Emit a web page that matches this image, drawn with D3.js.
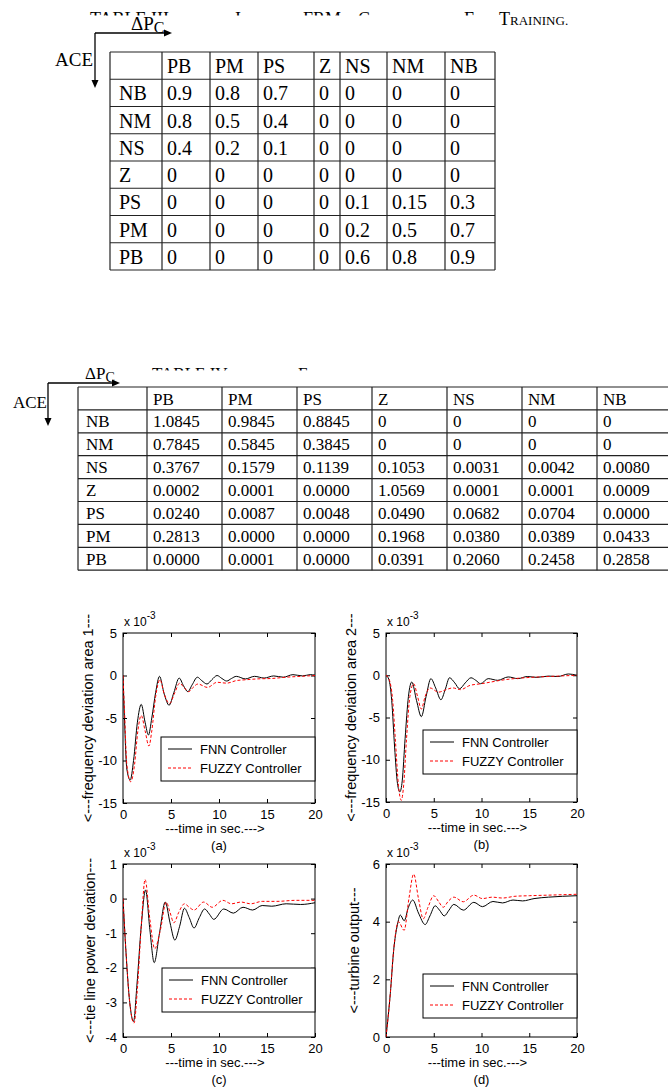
<!DOCTYPE html>
<html>
<head>
<meta charset="utf-8">
<script src="https://cdn.jsdelivr.net/npm/d3@7"></script>
<style>
body{margin:0;background:#fff;}
</style>
</head>
<body>
<svg id="fig" width="668" height="1088"></svg>
<script>
// ---------- table data ----------
let colNames = ['PB','PM','PS','Z','NS','NM','NB'];
let rowNames = ['NB','NM','NS','Z','PS','PM','PB'];

let initRules = [
    ['0.9','0.8','0.7','0','0','0','0'],
    ['0.8','0.5','0.4','0','0','0','0'],
    ['0.4','0.2','0.1','0','0','0','0'],
    ['0','0','0','0','0','0','0'],
    ['0','0','0','0','0.1','0.15','0.3'],
    ['0','0','0','0','0.2','0.5','0.7'],
    ['0','0','0','0','0.6','0.8','0.9']
];
let finalRules = [
    ['1.0845','0.9845','0.8845','0','0','0','0'],
    ['0.7845','0.5845','0.3845','0','0','0','0'],
    ['0.3767','0.1579','0.1139','0.1053','0.0031','0.0042','0.0080'],
    ['0.0002','0.0001','0.0000','1.0569','0.0001','0.0001','0.0009'],
    ['0.0240','0.0087','0.0048','0.0490','0.0682','0.0704','0.0000'],
    ['0.2813','0.0000','0.0000','0.1968','0.0380','0.0389','0.0433'],
    ['0.0000','0.0001','0.0000','0.0391','0.2060','0.2458','0.2858']
];

// title words: [tall first letter, small caps rest]
let title3 = [['TABLE III',''],['I','NITIAL'],['FRM',''],['C','ONSEQUENTS'],['F','OR'],['T','RAINING.']];
let title4 = [['TABLE IV',''],['F','INAL']];

// ---------- plot data: [time, value x1e-3] ----------
let timeTicks = [0,5,10,15,20];
let legendNames = ['FNN Controller','FUZZY Controller'];

let freq1Fnn = [[0,0],[0.15,-5],[0.4,-11],[0.75,-12.3],[1.1,-10],[1.5,-5.5],[1.9,-3.4],[2.3,-5.5],[2.65,-7],[3.0,-5],[3.4,-2],[3.8,-0.1],
    [4.3,-2.2],[4.8,-3.5],[5.3,-2],[5.85,-0.3],[6.3,-1.2],[6.75,-1.9],[7.2,-1.1],[7.75,-0.2],[8.2,-0.6],[8.75,-1.0],[9.25,-0.5],
    [9.8,0],[10.3,-0.35],[10.8,-0.65],[11.3,-0.35],[11.8,-0.1],[12.75,-0.4],[13.7,-0.1],[14.7,-0.3],[15.7,-0.05],[16.7,-0.2],
    [17.7,0.1],[18.7,-0.05],[19.5,0.1],[20,0.05]];
let freq1Fuzzy = [[0,0],[0.15,-4],[0.4,-10.5],[0.8,-12.5],[1.2,-10.5],[1.55,-6.5],[1.9,-4.7],[2.3,-6.5],[2.7,-8.3],[3.0,-6.5],[3.4,-2.5],
    [3.85,-0.5],[4.3,-2.2],[4.85,-3.3],[5.4,-2],[5.9,-0.9],[6.35,-1.4],[6.85,-1.9],[7.3,-1.4],[7.8,-1.0],[8.8,-1.4],[9.8,-0.8],
    [10.8,-0.9],[11.8,-0.6],[12.8,-0.5],[14,-0.4],[15.5,-0.35],[17,-0.2],[18.5,-0.1],[20,0]];

let freq2Fnn = [[0,0],[0.3,-0.5],[0.6,-3],[0.9,-8.5],[1.2,-12.8],[1.45,-13.8],[1.7,-12.5],[2.0,-7.5],[2.35,-2.5],[2.7,-0.8],[3.2,-3],
    [3.7,-4.9],[4.2,-2.5],[4.7,-0.4],[5.2,-1.5],[5.75,-2.9],[6.2,-1.7],[6.65,-0.3],[7.2,-0.9],[7.7,-1.6],[8.3,-0.9],[8.9,-0.3],
    [9.4,-0.6],[9.9,-1.0],[10.7,-0.4],[11.7,-0.6],[12.8,-0.2],[13.8,-0.4],[14.8,-0.15],[15.8,-0.25],[17,-0.1],[18,-0.15],[19.1,0.15],[20,0]];
let freq2Fuzzy = [[0,0],[0.3,-0.4],[0.7,-3],[1.0,-8],[1.3,-13],[1.6,-14.8],[1.85,-13],[2.15,-7.5],[2.5,-2.5],[2.9,-1.0],[3.3,-2.5],
    [3.7,-4.0],[4.1,-2.5],[4.6,-1.5],[5.5,-2.0],[6.3,-1.7],[7.0,-1.5],[7.8,-1.7],[8.8,-1.2],[10,-1.0],[11,-0.8],[12,-0.6],[13,-0.45],
    [14.5,-0.3],[16,-0.2],[18,-0.1],[20,0]];

let tieFnn = [[0,0],[0.3,-1.5],[0.7,-3.0],[1.1,-3.55],[1.45,-2.5],[1.9,-0.8],[2.35,0.25],[2.8,-0.9],[3.25,-1.85],[3.8,-1.0],[4.4,-0.1],
    [4.9,-0.7],[5.4,-1.2],[5.9,-0.8],[6.4,-0.28],[6.9,-0.55],[7.4,-0.85],[7.95,-0.55],[8.5,-0.3],[9.0,-0.45],[9.45,-0.6],[10.5,-0.3],
    [11.5,-0.42],[12.5,-0.25],[13.5,-0.33],[14.5,-0.2],[15.5,-0.22],[17,-0.15],[18.5,-0.17],[20,-0.12]];
let tieFuzzy = [[0,0],[0.3,-1.5],[0.7,-3.0],[1.15,-3.6],[1.5,-2.6],[1.9,-0.8],[2.3,0.55],[2.8,-0.6],[3.3,-1.45],[3.9,-0.9],[4.5,-0.1],
    [4.9,-0.4],[5.3,-0.7],[5.8,-0.4],[6.4,-0.15],[6.9,-0.25],[7.4,-0.33],[8.4,-0.1],[9.3,-0.25],[10.4,-0.05],[11.3,-0.15],[12.3,-0.1],
    [13.3,-0.15],[14.5,-0.08],[16,-0.08],[18,-0.05],[20,-0.05]];

let turbFnn = [[0,0],[0.45,1.5],[0.8,3.0],[1.2,3.9],[1.5,4.23],[1.9,4.03],[2.35,4.5],[2.8,4.75],[3.4,4.3],[4.1,3.9],[4.6,4.2],[5.15,4.55],
    [5.6,4.4],[6.1,4.2],[6.6,4.4],[7.1,4.6],[8.1,4.4],[9.2,4.67],[10.1,4.52],[11.2,4.7],[12.2,4.65],[13.3,4.75],[14.3,4.72],[15.5,4.8],
    [17,4.85],[18.5,4.88],[20,4.9]];
let turbFuzzy = [[0,0],[0.45,1.5],[0.8,3.0],[1.3,4.0],[1.9,3.7],[2.4,4.8],[2.9,5.65],[3.4,4.8],[3.9,4.1],[4.4,4.5],[5.0,4.9],[5.5,4.7],
    [6.0,4.5],[6.5,4.7],[7.1,4.85],[8.1,4.69],[9.2,4.92],[10.1,4.8],[11.1,4.85],[12.2,4.82],[13.5,4.88],[15,4.9],[17,4.92],[20,4.95]];

let svg = d3.select('#fig');
let serif = 'Liberation Serif, Times New Roman, serif';
let sans = 'Liberation Sans, Arial, Helvetica, sans-serif';

// ---------- titles (partly hidden in the scan) ----------
function drawTitle(words, xs, base, bigSize, smallSize, cover){
    let t = svg.append('text').attr('y', base).attr('font-family', serif).attr('fill', '#000');
    for(let i = 0; i < words.length; i++){
        t.append('tspan').attr('x', xs[i]).attr('font-size', bigSize).text(words[i][0]);
        if(words[i][1] !== '') t.append('tspan').attr('font-size', smallSize).text(words[i][1]);
    }
    svg.append('rect').attr('x', cover[0]).attr('y', cover[1]).attr('width', cover[2]).attr('height', cover[3]).attr('fill', '#fff');
}

drawTitle(title3, [90,235,303,358,464,499], 25, 18, 13, [60,15.5,438,17]);
drawTitle(title4, [152,298], 379, 17, 13, [100,370.5,500,16]);

// ---------- arrows + axis names of the tables ----------
function drawCorner(o){
    let g = svg.append('g').attr('stroke','#000').attr('fill','#000');
    g.append('line').attr('x1',o.x).attr('y1',o.y).attr('x2',o.hx-6).attr('y2',o.y).attr('stroke-width',1.3);
    g.append('path').attr('d',`M${o.hx},${o.y} L${o.hx-8},${o.y-3.5} L${o.hx-8},${o.y+3.5} Z`).attr('stroke','none');
    g.append('line').attr('x1',o.x).attr('y1',o.y).attr('x2',o.x).attr('y2',o.vy-6).attr('stroke-width',1.3);
    g.append('path').attr('d',`M${o.x},${o.vy} L${o.x-3.5},${o.vy-8} L${o.x+3.5},${o.vy-8} Z`).attr('stroke','none');

    svg.append('text').attr('x',o.aceX).attr('y',o.aceY).attr('font-family',serif).attr('font-size',o.fs).text('ACE');
    let d = svg.append('text').attr('x',o.dpX).attr('y',o.dpY).attr('font-family',serif).attr('font-size',o.fs);
    d.append('tspan').text('ΔP');
    d.append('tspan').attr('dy',3).attr('font-size',o.fs-3).text('C');
}

drawCorner({x:95, y:33, hx:172, vy:88, aceX:55, aceY:66, dpX:131, dpY:30, fs:19});
drawCorner({x:48, y:383, hx:120, vy:426, aceX:13, aceY:408, dpX:85, dpY:379, fs:17});

// ---------- tables ----------
function drawTable(o){
    let g = svg.append('g');
    let nRow = o.rows.length + 1;
    let y = d3.scaleLinear().domain([0, nRow]).range([o.top, o.top + nRow * o.rowH]);
    let x0 = o.edges[0], x1 = o.edges[o.edges.length - 1];

    for(let i = 0; i <= nRow; i++){
        g.append('line').attr('x1',x0).attr('x2',x1).attr('y1',y(i)).attr('y2',y(i))
            .attr('stroke','#222').attr('stroke-width',1.2);
    }
    for(let j = 0; j < o.edges.length; j++){
        g.append('line').attr('x1',o.edges[j]).attr('x2',o.edges[j]).attr('y1',y(0)).attr('y2',y(nRow))
            .attr('stroke','#222').attr('stroke-width',1.2);
    }

    let cells = [];
    colNames.forEach((c, j) => cells.push({r:0, c:j+1, t:c}));
    rowNames.forEach((r, i) => {
        cells.push({r:i+1, c:0, t:r});
        o.rows[i].forEach((v, j) => cells.push({r:i+1, c:j+1, t:v}));
    });

    g.selectAll('text.cell').data(cells).enter().append('text')
        .attr('class','cell')
        .attr('x', d => o.edges[d.c] + (d.c === 0 ? o.padFirst : o.pad))
        .attr('y', d => y(d.r) + o.base)
        .attr('font-family', serif)
        .attr('font-size', o.fs)
        .text(d => d.t);
}

drawTable({rows:initRules, edges:[110,162,210,258,314,340,387,445,495], top:52, rowH:27.25, base:21, fs:20, pad:5, padFirst:9});
drawTable({rows:finalRules, edges:[78,147,222,297,372,447,522,597,672], top:387, rowH:22.9, base:17.5, fs:17, pad:6, padFirst:8});

// ---------- response plots ----------
function drawPlot(p){
    let x = d3.scaleLinear().domain([0,20]).range([p.left, p.right]);
    let y = d3.scaleLinear().domain(p.yDom).range([p.bottom, p.top]);
    let g = svg.append('g').attr('font-family', sans).attr('font-size', 13);

    svg.append('clipPath').attr('id','clip_' + p.name).append('rect')
        .attr('x',p.left).attr('y',p.top).attr('width',p.right-p.left).attr('height',p.bottom-p.top);

    let axes = [
        g.append('g').attr('transform',`translate(0,${p.bottom})`)
            .call(d3.axisBottom(x).tickValues(timeTicks).tickSizeInner(-4).tickSizeOuter(0).tickPadding(7).tickFormat(d => d)),
        g.append('g').attr('transform',`translate(0,${p.top})`)
            .call(d3.axisTop(x).tickValues(timeTicks).tickSizeInner(-4).tickSizeOuter(0).tickFormat('')),
        g.append('g').attr('transform',`translate(${p.left},0)`)
            .call(d3.axisLeft(y).tickValues(p.yTicks).tickSizeInner(-4).tickSizeOuter(0).tickPadding(6).tickFormat(d => d)),
        g.append('g').attr('transform',`translate(${p.right},0)`)
            .call(d3.axisRight(y).tickValues(p.yTicks).tickSizeInner(-4).tickSizeOuter(0).tickFormat(''))
    ];
    axes.forEach(a => {
        a.attr('font-size', null).attr('font-family', null);
        a.select('.domain').remove();
        a.selectAll('text').attr('fill','#000');
    });

    g.append('rect').attr('x',p.left).attr('y',p.top).attr('width',p.right-p.left).attr('height',p.bottom-p.top)
        .attr('fill','none').attr('stroke','#000').attr('stroke-width',1);

    let line = d3.line().x(d => x(d[0])).y(d => y(d[1])).curve(d3.curveMonotoneX);
    let lines = g.append('g').attr('clip-path','url(#clip_' + p.name + ')');
    lines.append('path').datum(p.fnn).attr('d', line).attr('fill','none').attr('stroke','#000').attr('stroke-width',1);
    lines.append('path').datum(p.fuzzy).attr('d', line).attr('fill','none').attr('stroke','#ff0000').attr('stroke-width',1)
        .attr('stroke-dasharray','3,2');

    // exponent label
    let ex = g.append('text').attr('x', p.left + 1).attr('y', p.top - 7).attr('font-size', 12);
    ex.append('tspan').text('x 10');
    ex.append('tspan').attr('dy', -7).attr('font-size', 10).text('-3');

    // legend
    let lg = g.append('g').attr('transform', `translate(${p.leg[0]},${p.leg[1]})`);
    lg.append('rect').attr('width', p.right - p.leg[0]).attr('height', 44).attr('fill','#fff').attr('stroke','#000');
    let styles = [['#000', null], ['#ff0000', '3,2']];
    legendNames.forEach((n, i) => {
        let yy = 12 + i * 19;
        lg.append('line').attr('x1', 7).attr('x2', 31).attr('y1', yy).attr('y2', yy)
            .attr('stroke', styles[i][0]).attr('stroke-dasharray', styles[i][1]);
        lg.append('text').attr('x', 39).attr('y', yy + 5).text(n);
    });

    // axis titles
    let xc = (p.left + p.right) / 2;
    g.append('text').attr('x', xc - 4).attr('y', p.bottom + 30).attr('text-anchor','middle').text('---time in sec.--->');
    g.append('text').attr('transform', `translate(${p.ylx},${(p.top + p.bottom) / 2}) rotate(-90)`)
        .attr('text-anchor','middle').attr('dy','0.35em').attr('font-size', 14.5).text(p.ylabel);
    g.append('text').attr('x', xc).attr('y', p.bottom + 47).attr('text-anchor','middle').text(p.caption);
}

drawPlot({name:'a', left:123, right:315, top:633, bottom:803, yDom:[-15,5], yTicks:[-15,-10,-5,0,5],
    ylabel:'<---frequency deviation area 1---', ylx:88, fnn:freq1Fnn, fuzzy:freq1Fuzzy, leg:[161,737], caption:'(a)'});
drawPlot({name:'b', left:386, right:577, top:633, bottom:802, yDom:[-15,5], yTicks:[-15,-10,-5,0,5],
    ylabel:'<---frequency deviation area 2---', ylx:351, fnn:freq2Fnn, fuzzy:freq2Fuzzy, leg:[423,730], caption:'(b)'});
drawPlot({name:'c', left:123, right:315, top:864, bottom:1037, yDom:[-4,1], yTicks:[-4,-3,-2,-1,0,1],
    ylabel:'<---tie line power deviation---', ylx:90, fnn:tieFnn, fuzzy:tieFuzzy, leg:[162,968], caption:'(c)'});
drawPlot({name:'d', left:386, right:577, top:864, bottom:1037, yDom:[0,6], yTicks:[0,2,4,6],
    ylabel:'<---turbine output---', ylx:354, fnn:turbFnn, fuzzy:turbFuzzy, leg:[423,974], caption:'(d)'});
</script>
</body>
</html>
